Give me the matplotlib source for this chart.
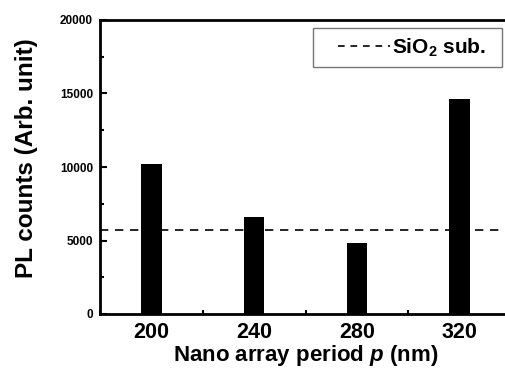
import matplotlib
matplotlib.use("Agg")
import matplotlib.pyplot as plt
from matplotlib.ticker import MultipleLocator
from matplotlib.legend_handler import HandlerLine2D
from matplotlib.offsetbox import DrawingArea

# data
periods = [200, 240, 280, 320]
pl_counts = [10200, 6600, 4850, 14650]
sio2_level = 5700

plt.rcParams['font.family'] = ['Liberation Sans', 'DejaVu Sans']
plt.rcParams['font.weight'] = 'bold'
plt.rcParams['mathtext.fontset'] = 'custom'
plt.rcParams['mathtext.rm'] = 'Liberation Sans:bold'
plt.rcParams['mathtext.bf'] = 'Liberation Sans:bold'
plt.rcParams['mathtext.it'] = 'Liberation Sans:bold:italic'
plt.rcParams['mathtext.bfit'] = 'Liberation Sans:bold:italic'

fig = plt.figure(figsize=(5.06, 3.68), dpi=100)
ax = fig.add_axes([100 / 506, 54 / 368, 1.01 - 100 / 506, 294 / 368])

ax.bar(periods, pl_counts, width=8, color='black')
ax.axhline(sio2_level, color='black', linestyle=(0, (5, 4)), linewidth=1.2,
           label=r'SiO$_\mathrm{2}$ sub.')

ax.set_xlim(180, 340)
ax.set_ylim(0, 20000)
ax.set_xticks(periods)
ax.xaxis.set_minor_locator(MultipleLocator(20))
ax.yaxis.set_major_locator(MultipleLocator(5000))
ax.yaxis.set_minor_locator(MultipleLocator(2500))

for side in ['left', 'bottom', 'top']:
    ax.spines[side].set_linewidth(2)
ax.spines['right'].set_visible(False)

ax.tick_params(axis='both', which='both', direction='in')
ax.tick_params(axis='x', which='major', labelsize=15.5, length=5, width=1.5, pad=6)
ax.tick_params(axis='x', which='minor', length=3, width=1.5)
ax.tick_params(axis='y', which='major', labelsize=8.5, length=5, width=1.5, pad=5)
ax.tick_params(axis='y', which='minor', length=3, width=1.5)

ax.set_ylabel('PL counts (Arb. unit)', fontsize=17.5, fontweight='bold')
ax.yaxis.set_label_coords(-0.152, 0.53)
ax.set_xlabel(r'Nano array period $\mathit{p}$ (nm)', fontsize=16, fontweight='bold', labelpad=0)

leg = ax.legend(loc='upper right', bbox_to_anchor=(502 / 506, 1 - 28 / 368),
                bbox_transform=fig.transFigure, borderaxespad=0,
                fontsize=15, fancybox=False, handlelength=3.3,
                borderpad=0.4, handletextpad=0.1,
                handler_map={ax.lines[0]: HandlerLine2D(xpad=0.8)})
# extra room to the right of the legend text, as in the original
item = leg._legend_handle_box.get_children()[0].get_children()[0]
item._children.append(DrawingArea(4, 1))
leg.get_lines()[0].set_linestyle((0, (4, 3.5)))
leg.get_frame().set_edgecolor('#555555')
leg.get_frame().set_linewidth(1)

fig.savefig('out.png', dpi=100)
